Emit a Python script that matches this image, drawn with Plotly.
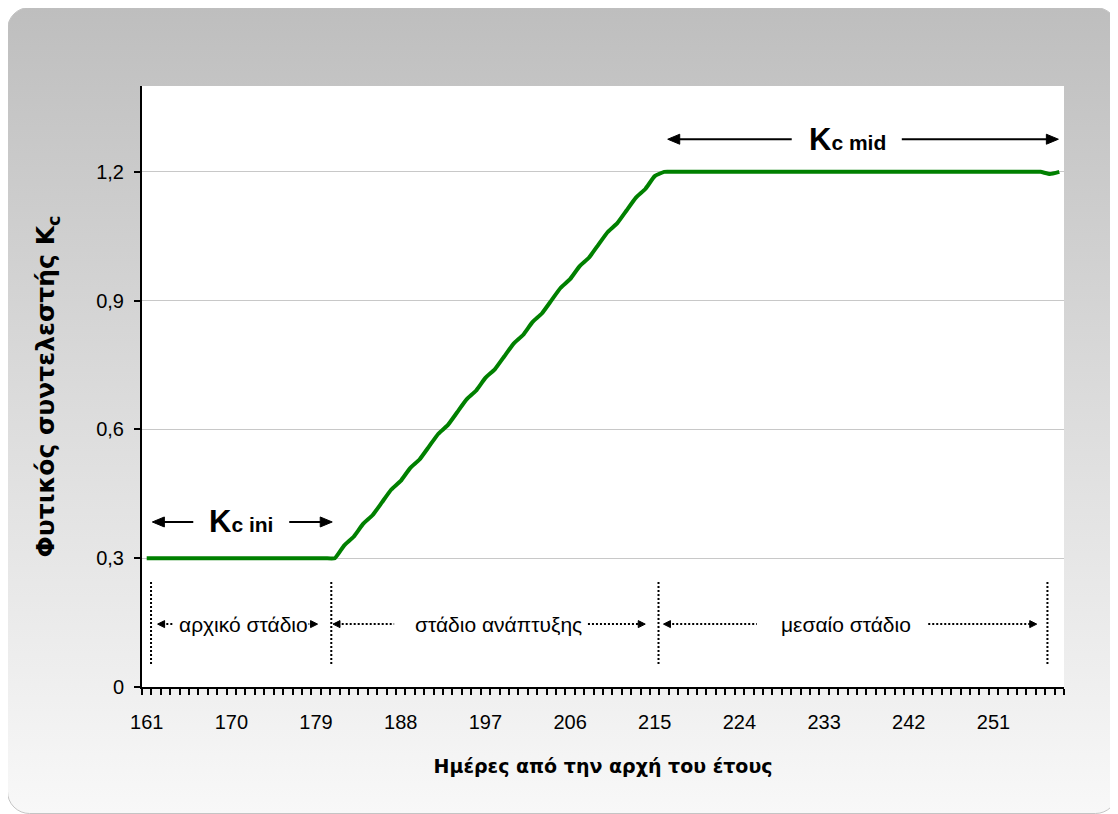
import base64
import plotly.graph_objects as go

# ---------------- data ----------------
days = list(range(161, 259))
kc = ([0.30] * 21 +
      [0.33, 0.35, 0.38, 0.40, 0.43, 0.46, 0.48, 0.51, 0.53, 0.56, 0.59, 0.61,
       0.64, 0.67, 0.69, 0.72, 0.74, 0.77, 0.80, 0.82, 0.85, 0.87, 0.90, 0.93,
       0.95, 0.98, 1.00, 1.03, 1.06, 1.08, 1.11, 1.14, 1.16, 1.19] +
      [1.20] * 41 + [1.195, 1.20])
x_tickvals = [161, 170, 179, 188, 197, 206, 215, 224, 233, 242, 251]
x_ticktext = [str(v) for v in x_tickvals]
y_tickvals = [0, 0.3, 0.6, 0.9, 1.2]
y_ticktext = ["0", "0,3", "0,6", "0,9", "1,2"]

stage_names = ["αρχικό στάδιο", "στάδιο ανάπτυξης", "μεσαίο στάδιο"]
stage_text_x = [171.27, 198.4, 235.35]
stage_bounds = [161.46, 180.62, 215.4, 256.74]

# ---------------- layout geometry (page has an 8px body margin) ----------------
W, H = 1110, 806
L, R, T, B = 134, 54, 78, 127
PW, PH = W - L - R, H - T - B


def px_x(X):
    return (X - L) / PW


def px_y(Y):
    return (H - B - Y) / PH


svg = ("<svg xmlns='http://www.w3.org/2000/svg' width='1111' height='807'>"
       "<defs><linearGradient id='g' x1='0' y1='0' x2='0' y2='1'>"
       "<stop offset='0' stop-color='#bebebe'/>"
       "<stop offset='0.5' stop-color='#dcdcdc'/>"
       "<stop offset='1' stop-color='#f8f8f8'/></linearGradient></defs>"
       "<rect x='0.5' y='0.5' width='1110' height='806' rx='22' ry='22' "
       "fill='url(#g)' stroke='#c4c4c4' stroke-width='1'/></svg>")
src = "data:image/svg+xml;base64," + base64.b64encode(svg.encode()).decode()

fig = go.Figure()
fig.add_trace(go.Scatter(
    x=days, y=kc, mode="lines",
    line=dict(color="#008000", width=4, shape="spline", smoothing=0.4),
    hoverinfo="skip", showlegend=False))

shapes = []
# white plot area
shapes.append(dict(type="rect", xref="paper", yref="paper", x0=0, x1=1, y0=0, y1=1,
                   fillcolor="white", line=dict(width=0), layer="below"))


def head(x, y, direction, length, half):
    d = 1 if direction == "right" else -1
    path = f"M0,0 L{-d*length},{half} L{-d*length},{-half} Z"
    return dict(type="path", xref="x", yref="y", xsizemode="pixel", ysizemode="pixel",
                xanchor=x, yanchor=y, path=path, fillcolor="black",
                line=dict(color="black", width=1), layer="above")


def seg(x0, x1, y, dash=None, width=2):
    ln = dict(color="black", width=width)
    if dash:
        ln["dash"] = dash
    return dict(type="line", xref="x", yref="y", x0=x0, x1=x1, y0=y, y1=y, line=ln)


# dotted vertical stage boundaries
for bx in stage_bounds:
    shapes.append(dict(type="line", xref="x", yref="y", x0=bx, x1=bx, y0=0.0535, y1=0.2465,
                       line=dict(color="black", width=2, dash="2px,2px")))

# dotted stage arrows
ys = 0.1465
dot = "2px,2px"
stage_segs = [
    (162.16, 163.83, 178.07, 179.16),
    (180.8, 187.3, 207.9, 213.99),
    (215.93, 225.86, 244.07, 255.6),
]
for lt, le, rs, rt in stage_segs:
    shapes.append(seg(lt + 0.5, le, ys, dash=dot))
    shapes.append(seg(rs, rt - 0.5, ys, dash=dot))
    shapes.append(head(lt, ys, "left", 7, 3.5))
    shapes.append(head(rt, ys, "right", 7, 3.5))

# Kc ini / Kc mid solid arrows
for lt, le, rs, rt, yk in [(161.6, 165.95, 176.15, 180.72, 0.3844),
                           (216.38, 229.56, 241.26, 257.9, 1.276)]:
    shapes.append(seg(lt + 0.8, le, yk, width=2))
    shapes.append(seg(rs, rt - 0.8, yk, width=2))
    shapes.append(head(lt, yk, "left", 12, 5))
    shapes.append(head(rt, yk, "right", 12, 5))

annotations = []
for name, tx in zip(stage_names, stage_text_x):
    annotations.append(dict(x=tx, y=ys, xref="x", yref="y", text=name, showarrow=False,
                            font=dict(family="Liberation Sans, Arial", size=21, color="black"),
                            bgcolor="white", borderpad=0))
annotations.append(dict(x=171.05, y=0.3844, xref="x", yref="y", showarrow=False,
                        text="<b>K<span style='font-size:21px'>c ini</span></b>",
                        font=dict(family="Liberation Sans, Arial", size=31, color="black")))
annotations.append(dict(x=235.5, y=1.276, xref="x", yref="y", showarrow=False,
                        text="<b>K<span style='font-size:21px'>c mid</span></b>",
                        font=dict(family="Liberation Sans, Arial", size=31, color="black")))

fig.update_layout(
    width=W, height=H,
    margin=dict(l=L, r=R, t=T, b=B, autoexpand=False),
    paper_bgcolor="white", plot_bgcolor="white",
    font=dict(family="Liberation Sans, Arial", size=20, color="black"),
    shapes=shapes, annotations=annotations,
    images=[dict(source=src, xref="paper", yref="paper", x=px_x(-1), y=px_y(-1),
                 sizex=1111 / PW, sizey=807 / PH, xanchor="left", yanchor="top",
                 sizing="stretch", layer="below")],
    xaxis=dict(range=[160.5, 258.5], tickmode="array", tickvals=x_tickvals,
               ticktext=x_ticktext, ticks="outside", ticklen=16,
               tickcolor="rgba(0,0,0,0)", showgrid=False, zeroline=False,
               showline=True, linecolor="black", linewidth=2,
               tickfont=dict(size=20),
               minor=dict(ticks="outside", ticklen=6, tickmode="linear", tick0=160.5,
                          dtick=1, tickcolor="black", tickwidth=1.5, showgrid=False),
               title=dict(text="<b>Ημέρες από την αρχή του έτους</b>",
                          font=dict(family="DejaVu Sans", size=19), standoff=28),
               fixedrange=True),
    yaxis=dict(range=[0, 1.4], tickmode="array", tickvals=y_tickvals, ticktext=y_ticktext,
               ticks="outside", ticklen=6, tickcolor="black", tickwidth=1.5,
               ticklabelstandoff=6,
               showgrid=True, gridcolor="#c8c8c8", gridwidth=1.2, zeroline=False,
               showline=True, linecolor="black", linewidth=2, tickfont=dict(size=20),
               title=dict(text="<b>Φυτικός συντελεστής K<sub>c</sub></b>",
                          font=dict(family="DejaVu Sans", size=25), standoff=34),
               fixedrange=True),
)

fig.write_html("out.html")
